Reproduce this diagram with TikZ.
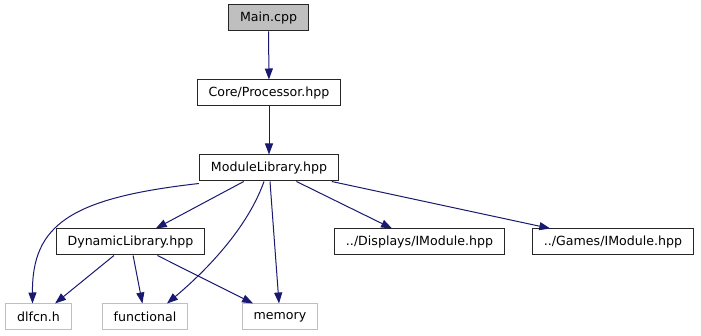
\documentclass[tikz,border=0pt]{standalone}
\usepackage{fontspec}
\setmainfont{DejaVu Sans}
\usetikzlibrary{calc, positioning, arrows.meta}
\definecolor{edgeblue}{RGB}{25,25,112}
\definecolor{sysgray}{RGB}{191,191,191}

\begin{document}
\begin{tikzpicture}[x=1pt, y=-1pt,
  file/.style={draw=black!85, line width=1pt, fill=white, minimum height=26pt,
    inner xsep=11.5pt, inner ysep=0pt, font=\fontsize{12.6}{15}\selectfont},
  sys/.style={file, draw=sysgray},
  dep/.style={draw=edgeblue, line width=1pt, -{Triangle[length=11pt,width=8pt]}}]
\useasboundingbox (0,0) rectangle (701,336);

% Project headers
\node[file, fill=sysgray] (main) at (268.5,18) {Main.cpp};
\node[file] (proc) at (269,93) {Core/Processor.hpp};
\node[file] (ml) at (269,168) {ModuleLibrary.hpp};
\node[file] (dyn) at (130.5,242) {DynamicLibrary.hpp};
\node[file] (disp) at (419.5,242) {../Displays/IModule.hpp};
\node[file] (games) at (613,242) {../Games/IModule.hpp};

% System headers
\node[sys] (dlfcn) at (38.5,317) {dlfcn.h};
\node[sys] (func) at (145,317) {functional};
\node[sys] (mem) at (280,317) {memory};

% Includes
\draw[dep] (main) -- (proc);
\draw[dep] (proc) -- (ml);
\draw[dep] (ml) -- (dyn);
\draw[dep] ([yshift=-2]ml.south west) .. controls (70,198) and (32,225) .. ([xshift=-6]dlfcn.north);
\draw[dep] ([xshift=-5]ml.south) .. controls (245,235) and (195,280) .. ([xshift=22]func.north);
\draw[dep] (ml) -- (mem);
\draw[dep] (ml) -- (disp);
\draw[dep] (ml) -- (games);
\draw[dep] (dyn) -- (dlfcn);
\draw[dep] (dyn) -- (func);
\draw[dep] (dyn) -- (mem);
\end{tikzpicture}
\end{document}
